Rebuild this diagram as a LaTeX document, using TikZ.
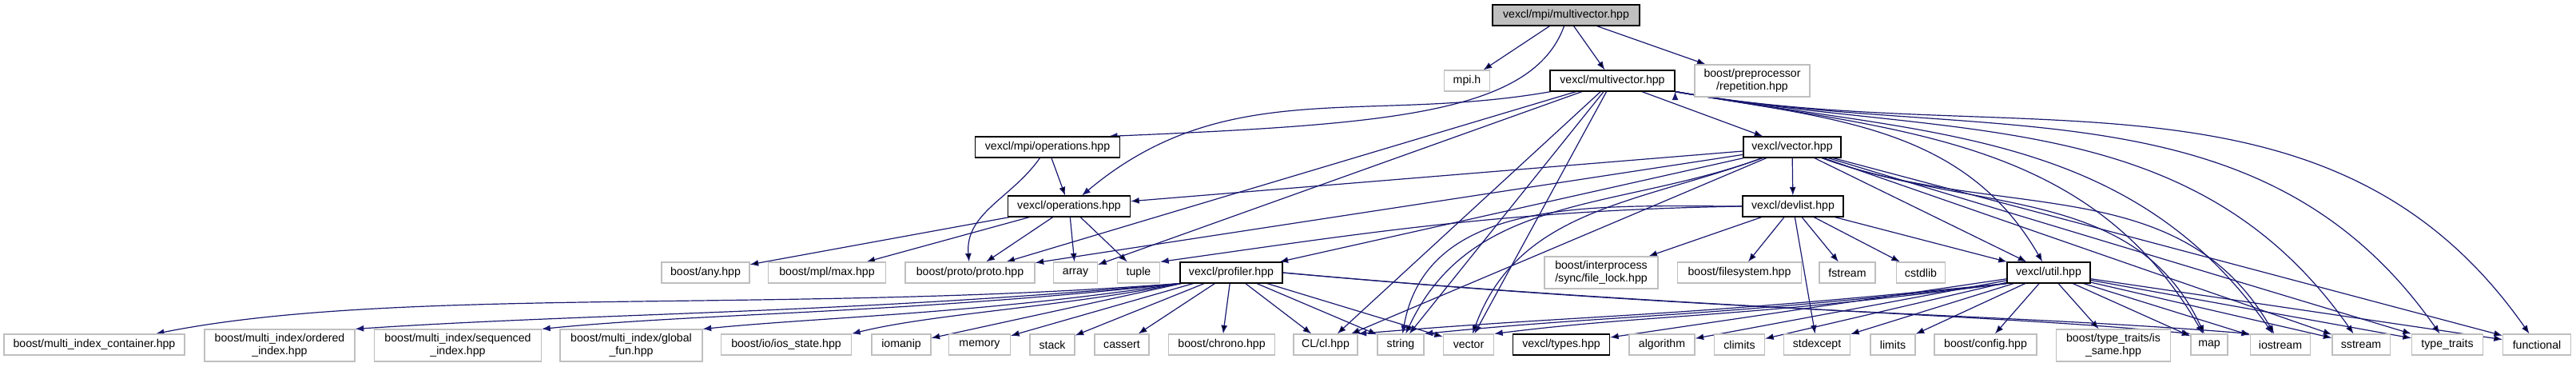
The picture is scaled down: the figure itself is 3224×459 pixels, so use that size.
\documentclass[tikz,border=0pt]{standalone}
\usepackage{fontspec}
\setmainfont{Liberation Sans}
\usepackage{xcolor}
\usetikzlibrary{arrows.meta}
\definecolor{edgeblue}{RGB}{25,25,112}
\definecolor{rootgray}{RGB}{191,191,191}
\definecolor{extgray}{RGB}{191,191,191}
\pgfdeclarelayer{bg}
\pgfsetlayers{bg,main}

\begin{document}
\begin{tikzpicture}[>={Latex[length=8pt,width=6pt]}, x=0.75pt, y=0.75pt]

        % Styles
        \tikzset{
            extfile/.style={draw=extgray, fill=white, line width=0.8pt, inner sep=0pt, align=center, minimum height=19.5pt, font=\fontsize{10.6}{12.5}\selectfont},
            docfile/.style={extfile, draw=black},
            rootfile/.style={docfile, fill=rootgray},
            tall/.style={minimum height=30pt},
            wd/.style={minimum width=#1*0.75pt},
            incl/.style={->, draw=edgeblue, line width=0.9pt}
        }
        \useasboundingbox (0,0) rectangle (3224,-459);

        % --- root and first level ---
        \node[rootfile, wd=184] (mpimv) at (1960,-19) {vexcl/mpi/multivector.hpp};
        \node[extfile, wd=57] (mpih) at (1836,-101) {mpi.h};
        \node[docfile, wd=156] (multivec) at (2018,-101) {vexcl/multivector.hpp};
        \node[extfile, tall, wd=144] (repetition) at (2193,-101) {boost/preprocessor\\/repetition.hpp};

        % --- vexcl headers ---
        \node[docfile, wd=181] (mpiops) at (1311,-184) {vexcl/mpi/operations.hpp};
        \node[docfile, wd=122] (vechpp) at (2243,-184) {vexcl/vector.hpp};
        \node[docfile, wd=153] (ops) at (1338,-258) {vexcl/operations.hpp};
        \node[docfile, wd=126] (devlist) at (2244,-258) {vexcl/devlist.hpp};

        % --- fourth row ---
        \node[extfile, wd=110] (anyhpp) at (883,-341) {boost/any.hpp};
        \node[extfile, wd=147] (mplmax) at (1035,-341) {boost/mpl/max.hpp};
        \node[extfile, wd=162] (proto) at (1214,-341) {boost/proto/proto.hpp};
        \node[extfile, wd=55] (array) at (1346,-341) {array};
        \node[extfile, wd=53] (tuple) at (1425,-341) {tuple};
        \node[docfile, wd=128] (profiler) at (1541,-341) {vexcl/profiler.hpp};
        \node[extfile, tall, wd=142] (filelock) at (2004,-341) {boost/interprocess\\/sync/file\_lock.hpp};
        \node[extfile, wd=155] (filesys) at (2177,-341) {boost/filesystem.hpp};
        \node[extfile, wd=70] (fstream) at (2312,-341) {fstream};
        \node[extfile, wd=61] (cstdlib) at (2404,-341) {cstdlib};
        \node[docfile, wd=104] (util) at (2564,-341) {vexcl/util.hpp};

        % --- bottom row ---
        \node[extfile, wd=226] (micont) at (118,-431) {boost/multi\_index\_container.hpp};
        \node[extfile, tall, wd=188] (ordidx) at (350,-432) {boost/multi\_index/ordered\\\_index.hpp};
        \node[extfile, tall, wd=209] (seqidx) at (573,-432) {boost/multi\_index/sequenced\\\_index.hpp};
        \node[extfile, tall, wd=178] (gfun) at (790,-432) {boost/multi\_index/global\\\_fun.hpp};
        \node[extfile, wd=163] (iosstate) at (984,-431) {boost/io/ios\_state.hpp};
        \node[extfile, wd=74] (iomanip) at (1128,-431) {iomanip};
        \node[extfile, wd=77] (memory) at (1226,-431) {memory};
        \node[extfile, wd=56] (stack) at (1317,-431) {stack};
        \node[extfile, wd=68] (cassert) at (1404,-431) {cassert};
        \node[extfile, wd=133] (chrono) at (1529,-431) {boost/chrono.hpp};
        \node[extfile, wd=80] (clhpp) at (1659,-431) {CL/cl.hpp};
        \node[extfile, wd=58] (string) at (1753,-431) {string};
        \node[extfile, wd=63] (stdvec) at (1838,-431) {vector};
        \node[docfile, wd=121] (types) at (1954,-431) {vexcl/types.hpp};
        \node[extfile, wd=82] (algorithm) at (2080,-431) {algorithm};
        \node[extfile, wd=63] (climits) at (2177,-431) {climits};
        \node[extfile, wd=83] (stdexcept) at (2274,-431) {stdexcept};
        \node[extfile, wd=56] (limits) at (2369,-431) {limits};
        \node[extfile, wd=128] (config) at (2485,-431) {boost/config.hpp};
        \node[extfile, tall, wd=143] (issame) at (2645,-432) {boost/type\_traits/is\\\_same.hpp};
        \node[extfile, wd=46] (map) at (2765,-431) {map};
        \node[extfile, wd=75] (iostream) at (2854,-431) {iostream};
        \node[extfile, wd=72] (sstream) at (2955,-431) {sstream};
        \node[extfile, wd=89] (typetraits) at (3063,-431) {type\_traits};
        \node[extfile, wd=85] (functional) at (3175,-431) {functional};

        % --- includes (drawn behind the boxes) ---
        \begin{pgfonlayer}{bg}
        % vexcl/mpi/multivector.hpp
        \draw[incl] (mpimv) edge (mpih) edge (multivec) edge (repetition);
        \draw[incl] (mpimv.-100) .. controls +(-40,-110) and +(350,15) .. (mpiops.10);

        % vexcl/multivector.hpp
        \draw[incl] (multivec) edge (vechpp) edge (proto) edge (array) edge (clhpp) edge (string) edge (stdvec);
        \draw[incl] (multivec) to[out=190, in=40] (ops);
        \draw[incl] (multivec.south east) edge[out=-10, in=120] (util) edge[out=-10, in=120] (map)
            edge[out=-10, in=125] (iostream) edge[out=-10, in=125] (sstream)
            edge[out=-10, in=125] (typetraits) edge[out=-10, in=125] (functional);

        % vexcl/mpi/operations.hpp and vexcl/operations.hpp
        \draw[incl] (mpiops) edge (ops) edge[out=-125, in=95] (proto);
        \draw[incl] (ops) edge (anyhpp) edge (mplmax) edge (proto) edge (array) edge (tuple);

        % vexcl/vector.hpp
        \draw[incl] (vechpp) edge (ops) edge (proto) edge (profiler) edge (clhpp) edge (devlist)
            edge (util) edge (sstream) edge (typetraits) edge (functional);
        \draw[incl] (vechpp) edge[out=200, in=65] (string) edge[out=200, in=70] (stdvec)
            edge[out=-20, in=115] (map) edge[out=-20, in=120] (iostream);

        % vexcl/devlist.hpp
        \draw[incl] (devlist) edge (filelock) edge (filesys) edge (fstream) edge (cstdlib) edge (util) edge (stdexcept);
        \draw[incl] (devlist.west) to[out=180, in=80] (string);
        \draw[incl] (devlist.west) .. controls +(-300,-5) and +(250,35) .. (tuple.north east);

        % vexcl/profiler.hpp
        \draw[incl] (profiler) edge (iomanip) edge (memory) edge (stack) edge (cassert) edge (chrono)
            edge (clhpp) edge (string) edge (stdvec);
        \draw[incl] (profiler.south west) .. controls +(-500,-38) and +(300,60) .. (micont.10);
        \draw[incl] (profiler.south west) .. controls +(-420,-38) and +(300,20) .. (ordidx.north east);
        \draw[incl] (profiler.south west) .. controls +(-350,-38) and +(200,20) .. (seqidx.north east);
        \draw[incl] (profiler.south west) .. controls +(-250,-38) and +(150,15) .. (gfun.north east);
        \draw[incl] (profiler.south west) .. controls +(-150,-30) and +(100,25) .. (iosstate.north east);
        \draw[incl] (profiler.east) .. controls +(500,-45) and +(-250,25) .. (map.north west);
        \draw[incl] (profiler.east) .. controls +(550,-50) and +(-300,25) .. (iostream.north west);

        % vexcl/util.hpp
        \draw[incl] (util) edge (types) edge (algorithm) edge (climits) edge (stdexcept) edge (limits) edge (config)
            edge (issame) edge (map) edge (iostream) edge (sstream) edge (typetraits) edge (functional);
        \draw[incl] (util.south west) .. controls +(-350,-45) and +(200,25) .. (stdvec.north east);
        \draw[incl] (util.south west) .. controls +(-400,-45) and +(250,25) .. (string.north east);
        \draw[incl] (util.south west) .. controls +(-450,-45) and +(300,25) .. (clhpp.north east);
        \end{pgfonlayer}

    \end{tikzpicture}
\end{document}
